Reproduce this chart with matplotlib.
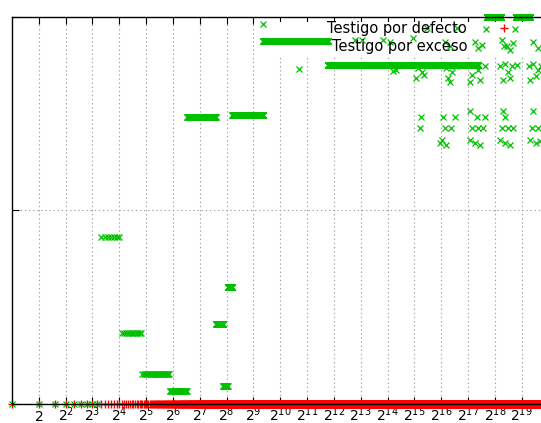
import numpy as np
import matplotlib
matplotlib.use('Agg')
import matplotlib.pyplot as plt
from matplotlib.patches import Rectangle
from matplotlib.ticker import NullLocator

# "por defecto": zero for every size n up to the last one measured
defect_last = 870000

# "por exceso": runs of consecutive sizes sharing the same value
run_first = [1, 10, 17, 29, 59, 92, 195, 235, 263, 297, 661, 662, 3551, 212000, 456000]
run_last = [9, 16, 28, 58, 91, 194, 234, 262, 296, 660, 661, 3550, 169000, 311000, 645000]
run_value = [0.0, 0.863, 0.367, 0.155, 0.067, 1.481, 0.413, 0.093, 0.605,
             1.491, 1.966, 1.874, 1.75, 2.0, 2.0]

# "por exceso": isolated sizes
sc_n = [
    # just under the 1.75 band
    1680, 18950, 20450, 34200, 36100, 40100, 42100,
    74300, 78100, 82000, 87100, 95900,
    137600, 145500, 170500, 179000, 204200,
    301100, 325000, 341100, 368100, 389000, 408500, 466000,
    636000, 650000, 706000, 762000, 800000, 870000,
    # lower groups
    37900, 38960, 63700, 67000, 68800, 72300, 74300, 84700, 94000,
    137600, 137600, 145500, 156900, 166000, 170500, 179000, 193200, 204200,
    301100, 316400, 325000, 341100, 341100, 368100, 389000, 420000,
    650000, 687000, 706000, 762000, 800000, 846000,
    # upper groups
    7080, 8480, 14560, 17440, 31650, 45400, 72300, 82000, 98600,
    156900, 170500, 188000, 208600, 316400, 360700, 389000, 420000, 441000,
    706000, 800000,
]
sc_v = [
    1.730, 1.721, 1.726, 1.685, 1.736, 1.716, 1.700,
    1.736, 1.685, 1.664, 1.716, 1.747,
    1.664, 1.700, 1.726, 1.674, 1.747,
    1.747, 1.674, 1.757, 1.716, 1.685, 1.747, 1.752,
    1.747, 1.674, 1.757, 1.695, 1.726, 1.747,
    1.426, 1.483, 1.349, 1.364, 1.483, 1.426, 1.339, 1.426, 1.483,
    1.513, 1.364, 1.426, 1.349, 1.483, 1.426, 1.339, 1.426, 1.483,
    1.364, 1.426, 1.513, 1.483, 1.349, 1.426, 1.339, 1.426,
    1.364, 1.426, 1.513, 1.349, 1.426, 1.359,
    1.881, 1.881, 1.881, 1.871, 1.891, 1.943, 1.871, 1.850, 1.943,
    1.871, 1.840, 1.855, 1.938, 1.881, 1.850, 1.829, 1.866, 1.938,
    1.871, 1.840,
]

powers = list(range(1, 20))
tick_labels = [r'$\mathdefault{2}$'] + [r'$\mathdefault{2^{%d}}$' % k for k in powers[1:]]

RED = '#ff0000'
GREEN = '#00c000'

plt.rcParams['font.family'] = ['DejaVu Sans']

defect_n = np.arange(1, defect_last + 1)
defect_v = np.zeros(len(defect_n))

exc_n = [np.arange(a, b + 1) for a, b in zip(run_first, run_last)]
exc_v = [np.full(b - a + 1, v) for a, b, v in zip(run_first, run_last, run_value)]
exc_n = np.concatenate(exc_n + [np.array(sc_n)])
exc_v = np.concatenate(exc_v + [np.array(sc_v)])

fig = plt.figure(figsize=(5.41, 4.23), dpi=100)
ax = fig.add_axes([12 / 541, 19 / 423, 529 / 541, 387 / 423])
ax.set_xscale('log', base=2)
ax.set_xlim(1, 2 ** 19.72)
ax.set_ylim(0, 2)

ax.set_axisbelow(True)
ax.grid(True, color='#a0a0a0', ls=(0, (1.2, 2.5)), lw=0.8)
# the key area hides the grid behind it
ax.add_patch(Rectangle((0.473, 0.902), 0.53, 0.085, transform=ax.transAxes,
                       facecolor='white', edgecolor='none', zorder=1))

ax.set_xticks([2 ** k for k in powers])
ax.set_xticklabels(tick_labels)
ax.xaxis.set_minor_locator(NullLocator())
ax.set_yticks([0, 1, 2])
ax.tick_params(axis='x', direction='in', length=5, width=0.8, top=True,
               labelsize=10, pad=12)
for lab in ax.get_xticklabels():
    lab.set_verticalalignment('baseline')
ax.tick_params(axis='y', direction='in', length=5, width=0.8, labelleft=False)
ax.spines['right'].set_visible(False)
for s in ('left', 'top', 'bottom'):
    ax.spines[s].set_linewidth(1.0)

ax.plot(defect_n, defect_v, ls='none', marker='+', ms=5.5, mew=1.0,
        color=RED, clip_on=False, label='Testigo por defecto')
ax.plot(exc_n, exc_v, ls='none', marker='x', ms=4.5, mew=0.9,
        color=GREEN, clip_on=False, label='Testigo por exceso')

ax.legend(loc='upper right', bbox_to_anchor=(527 / 541, 1 - 21 / 423),
          bbox_transform=fig.transFigure, markerfirst=False, frameon=False,
          numpoints=1, handlelength=3.1, handletextpad=1.0, fontsize=10.5,
          labelspacing=0.18, borderpad=0, borderaxespad=0)

fig.savefig('out.png', dpi=100)
